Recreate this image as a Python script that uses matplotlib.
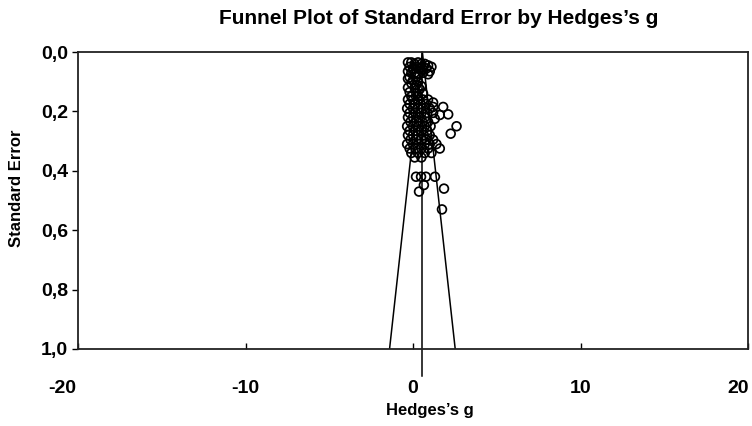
import matplotlib
matplotlib.use("Agg")
import matplotlib.pyplot as plt
from matplotlib.transforms import ScaledTranslation

# Study effects (Hedges's g) and standard errors
top_g = [-0.3, -0.1, 0.1, 0.3, 0.5, 0.7, 0.9, 1.1, -0.2, 0.0, 0.2, 0.4, 0.6, 0.8, 1.0,
         -0.3, -0.1, 0.1, 0.3, 0.6, 0.9, -0.2, 0.2]
top_se = [0.035, 0.035, 0.04, 0.035, 0.04, 0.04, 0.045, 0.05, 0.05, 0.055, 0.05, 0.055,
          0.06, 0.055, 0.065, 0.065, 0.07, 0.07, 0.075, 0.07, 0.075, 0.085, 0.085]
mid_g = [-0.3, 0.0, 0.3, -0.1, 0.2, 0.5, -0.3, 0.1, 0.4, -0.2, 0.2, 0.6, -0.1, 0.3]
mid_se = [0.09, 0.095, 0.1, 0.105, 0.11, 0.115, 0.12, 0.12, 0.125, 0.135, 0.14, 0.14,
          0.15, 0.15]
dense_g = [-0.3, 0.0, 0.3, 0.6, 0.9, 1.2,
           -0.2, 0.1, 0.45, 0.8, 1.2, 1.8,
           -0.35, 0.0, 0.3, 0.6, 1.0,
           -0.2, 0.15, 0.5, 0.85, 1.2, 1.6, 2.1,
           -0.3, 0.0, 0.35, 0.7, 1.3,
           -0.15, 0.2, 0.55, 0.9,
           -0.35, 0.0, 0.35, 0.7, 1.05, 2.6,
           -0.2, 0.15, 0.5, 0.85, 2.25,
           -0.3, 0.0, 0.3, 0.65, 1.0,
           -0.15, 0.2, 0.5, 0.8, 1.2,
           -0.35, 0.0, 0.35, 0.7, 1.0, 1.4,
           -0.2, 0.15, 0.5, 0.9, 1.6,
           -0.1, 0.3, 0.7, 1.1,
           0.1, 0.5]
dense_se = [0.16, 0.16, 0.16, 0.16, 0.16, 0.17,
            0.175, 0.175, 0.175, 0.175, 0.185, 0.185,
            0.19, 0.19, 0.19, 0.19, 0.19,
            0.205, 0.205, 0.205, 0.205, 0.205, 0.212, 0.21,
            0.22, 0.22, 0.22, 0.22, 0.225,
            0.235, 0.235, 0.235, 0.235,
            0.25, 0.25, 0.25, 0.25, 0.25, 0.25,
            0.265, 0.265, 0.265, 0.265, 0.275,
            0.28, 0.28, 0.28, 0.28, 0.28,
            0.295, 0.295, 0.295, 0.295, 0.295,
            0.31, 0.31, 0.31, 0.31, 0.31, 0.31,
            0.325, 0.325, 0.325, 0.325, 0.325,
            0.34, 0.34, 0.34, 0.34,
            0.355, 0.355]
low_g = [0.18, 0.48, 0.77, 1.31, 0.65, 0.36, 1.85, 1.73]
low_se = [0.42, 0.42, 0.42, 0.42, 0.448, 0.47, 0.46, 0.53]

hedges_g = top_g + mid_g + dense_g + low_g
std_error = top_se + mid_se + dense_se + low_se

mean_g = 0.56
x_ticks = [-20, -10, 0, 10, 20]
y_ticks = [0.0, 0.2, 0.4, 0.6, 0.8, 1.0]
y_tick_labels = ["0,0", "0,2", "0,4", "0,6", "0,8", "1,0"]

plt.rcParams['font.family'] = ['Liberation Sans', 'DejaVu Sans']

fig = plt.figure(figsize=(7.52, 4.26), dpi=100)
ax = fig.add_axes([78/752, 1-349/426, (748-78)/752, (349-52)/426])

ax.scatter(hedges_g, std_error, s=40, facecolors='none', edgecolors='black',
           linewidths=1.25, zorder=3)

# funnel
ax.plot([mean_g - 1.96, mean_g, mean_g + 1.96], [1.0, 0.0, 1.0],
        color='black', lw=1.1, zorder=2)
ax.plot([mean_g, mean_g], [0.0, 1.09], color='black', lw=1.1,
        clip_on=False, zorder=2)

ax.set_xlim(-20, 20)
ax.set_ylim(1.0, 0.0)
ax.set_xticks(x_ticks)
ax.set_xticklabels([str(v) for v in x_ticks], fontsize=14, fontweight='bold')
ax.set_yticks(y_ticks)
ax.set_yticklabels(y_tick_labels, fontsize=14, fontweight='bold')

for s in ax.spines.values():
    s.set_linewidth(1.3)
    s.set_color('#222222')

ax.tick_params(axis='x', direction='in', length=4, width=1, pad=22)
ax.tick_params(axis='y', direction='out', length=4, width=1, pad=3)

# shift the edge x labels inward as in the reference
xl = ax.get_xticklabels()
xl[0].set_transform(xl[0].get_transform() + ScaledTranslation(-0.16, 0, fig.dpi_scale_trans))
xl[-1].set_transform(xl[-1].get_transform() + ScaledTranslation(-0.10, 0, fig.dpi_scale_trans))

ax.set_xlabel("Hedges\u2019s g", fontsize=12, fontweight='bold')
ax.xaxis.set_label_coords((430 - 78) / 670, -(410 - 349) / 297)
ax.set_ylabel("Standard Error", fontsize=12, fontweight='bold')
ax.yaxis.set_label_coords((17 - 78) / 670, (349 - 188) / 297)
ax.xaxis.label.set_va('center')
ax.yaxis.label.set_va('center')

fig.text(439 / 752, 1 - 18 / 426, "Funnel Plot of Standard Error by Hedges\u2019s g",
         ha='center', va='center', fontsize=15, fontweight='bold')

fig.savefig("out.png", dpi=100)
